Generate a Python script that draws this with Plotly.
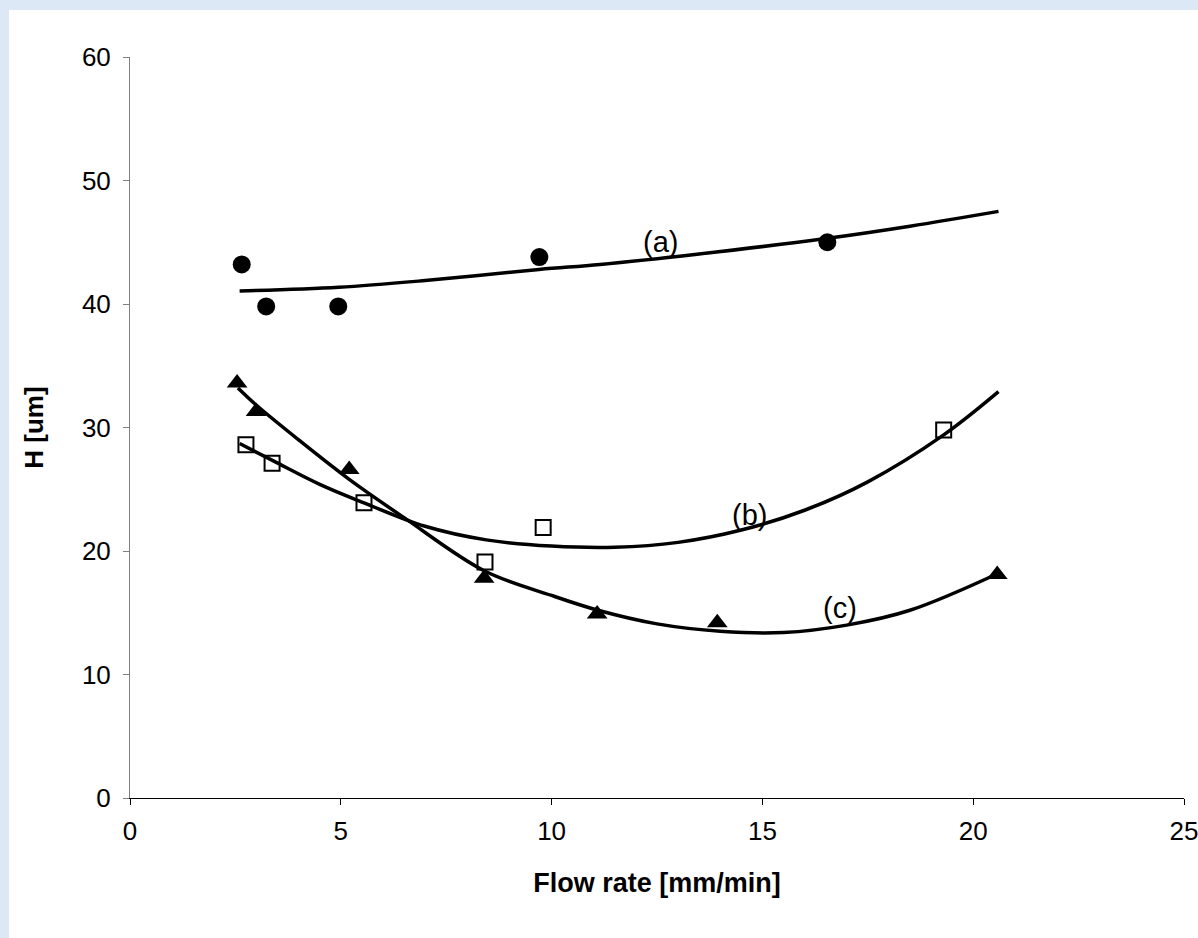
import plotly.graph_objects as go

# Measured data points
a_x = [2.65, 3.23, 4.94, 9.71, 16.54]
a_y = [43.2, 39.8, 39.8, 43.8, 45.0]
b_x = [2.75, 3.37, 5.55, 8.42, 9.8, 19.3]
b_y = [28.6, 27.1, 23.9, 19.1, 21.9, 29.8]
c_x = [2.54, 2.99, 5.2, 8.4, 11.08, 13.93, 20.57]
c_y = [33.6, 31.3, 26.6, 17.8, 14.9, 14.2, 18.1]

# Trend curves
a_fit_x = [2.6, 4.95, 7.0, 9.7, 11.15, 13.5, 16.5, 18.5, 20.6]
a_fit_y = [41.05, 41.35, 41.9, 42.8, 43.2, 44.05, 45.3, 46.3, 47.5]
b_fit_x = [2.6, 3.4, 4.5, 5.55, 7.0, 8.45, 10.0, 11.5, 13.0, 14.5, 16.0, 17.5, 19.3, 20.6]
b_fit_y = [28.7, 27.3, 25.4, 23.9, 22.0, 20.9, 20.4, 20.3, 20.7, 21.7, 23.3, 25.6, 29.4, 32.9]
c_fit_x = [2.56, 3.0, 4.0, 5.2, 6.5, 8.4, 10.0, 11.1, 12.5, 14.0, 15.5, 17.0, 18.5, 20.6]
c_fit_y = [33.2, 31.8, 29.0, 25.8, 22.7, 18.4, 16.4, 15.2, 14.1, 13.5, 13.4, 14.0, 15.2, 18.2]

labels = ["(a)", "(b)", "(c)"]
label_x = [12.58, 14.7, 16.85]
label_y = [45.0, 22.9, 15.4]

x_ticks = [0, 5, 10, 15, 20, 25]
y_ticks = [0, 10, 20, 30, 40, 50, 60]

FONT = "Liberation Sans, Arial"

fig = go.Figure()
line_style = dict(color="black", width=3.5)
for fx, fy in [(a_fit_x, a_fit_y), (b_fit_x, b_fit_y), (c_fit_x, c_fit_y)]:
    fig.add_trace(go.Scatter(x=fx, y=fy, mode="lines", line=dict(line_style, shape="spline"),
                             showlegend=False, hoverinfo="skip"))

fig.add_trace(go.Scatter(x=a_x, y=a_y, mode="markers",
                         marker=dict(symbol="circle", size=18, color="black"), showlegend=False))
fig.add_trace(go.Scatter(x=b_x, y=b_y, mode="markers",
                         marker=dict(symbol="square-open", size=15, color="black",
                                     line=dict(width=2, color="black")), showlegend=False))
fig.add_trace(go.Scatter(x=c_x, y=c_y, mode="markers",
                         marker=dict(symbol="triangle-up", size=18, color="black"), showlegend=False))

for t, tx, ty in zip(labels, label_x, label_y):
    fig.add_annotation(x=tx, y=ty, text=t, showarrow=False,
                       font=dict(size=29, color="black", family=FONT))

fig.add_shape(type="rect", xref="paper", yref="paper", layer="below",
              x0=(9 - 130) / 1054, x1=(1198 - 130) / 1054,
              y0=-140 / 741, y1=(798 - 10) / 741,
              fillcolor="white", line=dict(width=0))

fig.update_layout(
    width=1198, height=938,
    margin=dict(l=130, r=14, t=57, b=140),
    paper_bgcolor="#dce8f5",
    plot_bgcolor="white",
    font=dict(family=FONT, color="black"),
)
fig.update_xaxes(range=[0, 25], tickvals=x_ticks, showgrid=False, zeroline=False,
                 automargin=False, ticklabeloverflow="allow",
                 showline=True, linecolor="black", linewidth=1,
                 ticks="outside", ticklen=6, tickcolor="black", tickfont=dict(size=26),
                 ticklabelstandoff=4,
                 title=dict(text="<b>Flow rate [mm/min]</b>", font=dict(size=27), standoff=27))
fig.update_yaxes(range=[0, 60], tickvals=y_ticks, showgrid=False, zeroline=False,
                 automargin=False,
                 showline=True, linecolor="#808080", linewidth=1,
                 ticks="outside", ticklen=6, tickcolor="#808080", tickfont=dict(size=26),
                 ticklabelstandoff=7,
                 title=dict(text="<b>H [um]</b>", font=dict(size=26), standoff=30))

fig.write_html("out.html")
